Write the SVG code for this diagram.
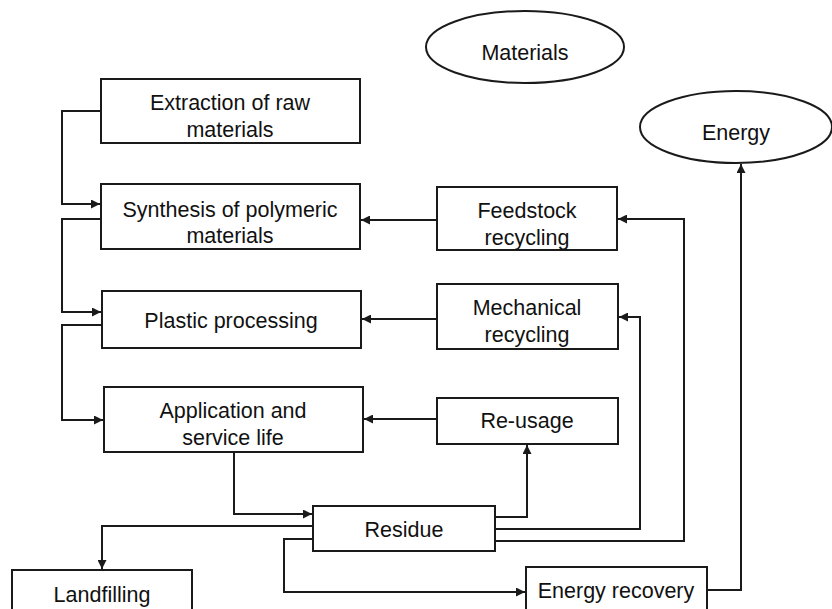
<svg xmlns="http://www.w3.org/2000/svg" width="832" height="609" viewBox="0 0 832 609">
<defs>
<marker id="ah" viewBox="0 0 10 10" refX="10" refY="5" markerWidth="9" markerHeight="9" markerUnits="userSpaceOnUse" orient="auto">
<path d="M0,0 L10,5 L0,10 z" fill="#1a1a1a"/>
</marker>
</defs>
<style>
.box{fill:#fff;stroke:#1a1a1a;stroke-width:2}
.t{font-family:"Liberation Sans",Arial,sans-serif;font-size:21.5px;fill:#111;text-anchor:middle}
.c{fill:none;stroke:#1a1a1a;stroke-width:2}
</style>
<rect width="832" height="609" fill="#fff"/>
<g id="connectors">
<path class="c" d="M101,111 H62 V204 H100" marker-end="url(#ah)"/>
<path class="c" d="M101,219 H62 V312 H101" marker-end="url(#ah)"/>
<path class="c" d="M102,325 H62 V420 H103" marker-end="url(#ah)"/>
<path class="c" d="M437,220 H361" marker-end="url(#ah)"/>
<path class="c" d="M437,319 H362" marker-end="url(#ah)"/>
<path class="c" d="M437,419 H364" marker-end="url(#ah)"/>
<path class="c" d="M234,452 V514 H312" marker-end="url(#ah)"/>
<path class="c" d="M313,526 H102 V569" marker-end="url(#ah)"/>
<path class="c" d="M313,539 H284 V592 H525" marker-end="url(#ah)"/>
<path class="c" d="M495,517 H527 V445" marker-end="url(#ah)"/>
<path class="c" d="M495,529 H640 V317 H619" marker-end="url(#ah)"/>
<path class="c" d="M495,541 H684 V219 H618" marker-end="url(#ah)"/>
<path class="c" d="M707,590 H741 V164" marker-end="url(#ah)"/>
</g>
<g id="materials">
<ellipse class="box" cx="525" cy="47" rx="99" ry="36"/>
<text class="t" x="525" y="60">Materials</text>
</g>
<g id="energy">
<ellipse class="box" cx="736" cy="127" rx="96" ry="36"/>
<text class="t" x="736" y="140">Energy</text>
</g>
<g id="extraction">
<rect class="box" x="101" y="79" width="259" height="64"/>
<text class="t" x="230" y="110">Extraction of raw</text>
<text class="t" x="230" y="137">materials</text>
</g>
<g id="synthesis">
<rect class="box" x="101" y="184" width="259" height="65"/>
<text class="t" x="230" y="217">Synthesis of polymeric</text>
<text class="t" x="230" y="243">materials</text>
</g>
<g id="plastic">
<rect class="box" x="102" y="291" width="259" height="57"/>
<text class="t" x="231" y="328">Plastic processing</text>
</g>
<g id="application">
<rect class="box" x="104" y="387" width="259" height="65"/>
<text class="t" x="233" y="418">Application and</text>
<text class="t" x="233" y="445">service life</text>
</g>
<g id="feedstock">
<rect class="box" x="437" y="187" width="180" height="63"/>
<text class="t" x="527" y="218">Feedstock</text>
<text class="t" x="527" y="245">recycling</text>
</g>
<g id="mechanical">
<rect class="box" x="437" y="284" width="181" height="65"/>
<text class="t" x="527" y="315">Mechanical</text>
<text class="t" x="527" y="342">recycling</text>
</g>
<g id="reusage">
<rect class="box" x="437" y="398" width="181" height="46"/>
<text class="t" x="527" y="428">Re-usage</text>
</g>
<g id="residue">
<rect class="box" x="313" y="506" width="182" height="45"/>
<text class="t" x="404" y="537">Residue</text>
</g>
<g id="landfilling">
<rect class="box" x="12" y="570" width="180" height="50"/>
<text class="t" x="102" y="602">Landfilling</text>
</g>
<g id="energyrecovery">
<rect class="box" x="526" y="567" width="181" height="50"/>
<text class="t" x="616" y="598">Energy recovery</text>
</g>
</svg>
